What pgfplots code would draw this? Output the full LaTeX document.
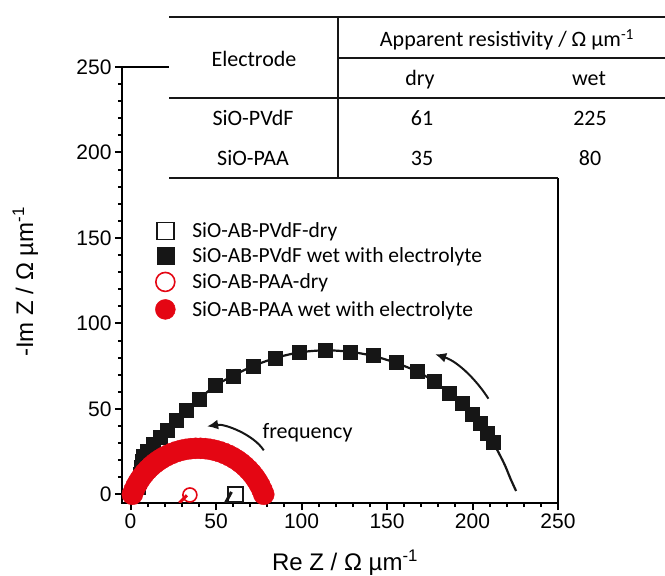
\documentclass[border=0pt]{standalone}
\usepackage{pgfplots}
\pgfplotsset{compat=1.18}
\usetikzlibrary{arrows.meta}
\usepackage{fontspec}
\setmainfont{Carlito}
\newfontfamily\arial{Liberation Sans}
\definecolor{myred}{RGB}{228,6,19}
\definecolor{myblack}{RGB}{22,22,22}

\begin{document}
\begin{tikzpicture}
\begin{axis}[
  at={(122bp,73bp)}, anchor=south west,
  scale only axis, width=436bp, height=436bp,
  xmin=-5, xmax=250, ymin=-5, ymax=250,
  axis line style={line width=2.2bp},
  xtick={0,50,...,250}, ytick={0,50,...,250},
  minor xtick={10,20,...,240}, minor ytick={10,20,...,240},
  tick pos=left, tick align=outside,
  major tick length=7bp, minor tick length=4bp,
  every tick/.style={black, line width=2bp},
  /pgf/number format/assume math mode=true,
  ticklabel style={font=\arial\fontsize{21bp}{24bp}\selectfont},
  xlabel={Re Z / Ω µm\textsuperscript{-1}},
  ylabel={-Im Z / Ω µm\textsuperscript{-1}},
  label style={font=\arial\fontsize{24bp}{28bp}\selectfont},
  xlabel style={at={(axis description cs:0.5115,-0.155)}, anchor=base},
  ylabel style={at={(axis description cs:-0.204,0.507)}, anchor=base},
  legend style={at={(axis description cs:0.076,0.644)}, anchor=north west,
    draw=none, fill=none, inner sep=0pt, row sep=8bp,
    font=\fontsize{21.5bp}{24bp}\selectfont,
    nodes={inner sep=0pt},
    /tikz/every odd column/.append style={column sep=17bp}},
  legend cell align=left,
]

% fit line, wet PVdF
\addplot[myblack, line width=2.2bp, smooth, forget plot] coordinates {
  (3.5,-3) (4.5,3) (5.8,10) (7,18) (9,24) (13,29) (17,33.3) (21.4,37.6)
  (26.8,43.4) (32.7,49.2) (40.9,56.5) (49.6,63.6) (60,69.5) (71.5,75)
  (84.7,79.8) (98.9,83.1) (114,84.3) (128.5,83.4) (142,81) (155,77)
  (167.5,72) (177.6,66) (186.3,59.4) (193.7,53.1) (199.6,46.9) (204.4,41.4)
  (208.4,35.9) (211.9,30.6) (215.5,24) (219,17) (222.3,9) (225.5,2)
};

% wet PVdF
\addplot[only marks, mark=square*, mark size=7bp, myblack, forget plot] coordinates {
  (4.5,4) (5,8) (5.5,12) (6.3,16) (6.8,19.5) (7.4,22.2) (9.7,25.4)
  (13.2,29.1) (17.1,33.2) (21.4,37.5) (26.7,43.3) (32.7,49.2) (40.3,56.0)
  (49.6,63.8) (60.1,69.2) (71.5,75.2) (84.7,79.8) (98.9,83.3) (113.9,84.3)
  (128.5,83.3) (142.1,81.2) (155.1,77.1) (167.5,72.2) (177.6,66.2)
  (186.3,59.3) (193.7,53.1) (199.6,46.8) (204.4,41.4) (208.4,35.9) (211.9,30.6)
};

% wet PAA
\addplot[only marks, mark=*, mark size=10.5bp, myred, forget plot] coordinates {
  (1.07,0.09) (2.14,2.73) (3.39,5.30) (4.82,7.77) (6.41,10.14) (8.17,12.39)
  (10.08,14.51) (12.13,16.49) (14.32,18.33) (16.63,20.01) (19.05,21.52)
  (21.57,22.86) (24.18,24.02) (26.86,25.00) (29.61,25.79) (32.40,26.38)
  (35.23,26.78) (38.07,26.98) (40.93,26.98) (43.77,26.78) (46.60,26.38)
  (49.39,25.79) (52.14,25.00) (54.82,24.02) (57.43,22.86) (59.95,21.52)
  (62.37,20.01) (64.68,18.33) (66.87,16.49) (68.92,14.51) (70.83,12.39)
  (72.59,10.14) (74.18,7.77) (75.61,5.30) (76.86,2.73) (77.93,0.09)
};

% dry PVdF
\addplot[myblack, line width=3bp, forget plot] coordinates {(55.5,-5) (59,1.5)};
\addplot[only marks, mark=square, mark size=7.5bp, line width=1.6bp, myblack,
  mark options={fill=white}, forget plot] coordinates {(61.5,0)};
% dry PAA
\addplot[myred, line width=3bp, forget plot] coordinates {(28.5,-5) (33,-0.5)};
\addplot[only marks, mark=o, mark size=7bp, line width=1.6bp, myred,
  mark options={fill=white}, forget plot] coordinates {(34.7,-0.3)};

\addlegendimage{only marks, mark=square, mark size=8.5bp, line width=1.6bp, myblack}
\addlegendentry{SiO-AB-PVdF-dry}
\addlegendimage{only marks, mark=square*, mark size=8.5bp, myblack}
\addlegendentry{SiO-AB-PVdF wet with electrolyte}
\addlegendimage{only marks, mark=o, mark size=9.5bp, line width=1.6bp, myred}
\addlegendentry{SiO-AB-PAA-dry}
\addlegendimage{only marks, mark=*, mark size=10bp, myred}
\addlegendentry{SiO-AB-PAA wet with electrolyte}

% arrows and label
\draw[myblack, line width=2bp, -{Latex[length=11bp,width=10bp]}]
  (axis cs:77.9,25.8) .. controls (axis cs:72,35) and (axis cs:55,41.5) .. (axis cs:44.8,39.8);
\draw[myblack, line width=2bp, -{Latex[length=11bp,width=10bp]}]
  (axis cs:209.3,56) .. controls (axis cs:203,66) and (axis cs:192,77.5) .. (axis cs:178.2,82);
\node[anchor=base west, inner sep=0pt, font=\fontsize{22bp}{26bp}\selectfont]
  at (axis cs:77.1,32.8) {frequency};
\end{axis}

% inset table
\fill[white] (169bp,398bp) rectangle (665bp,560bp);
\begin{scope}[line width=2bp, myblack]
  \draw (169bp,559bp) -- (665bp,559bp);
  \draw (338bp,559bp) -- (338bp,398bp);
  \draw (338bp,518bp) -- (665bp,518bp);
  \draw (169bp,478bp) -- (665bp,478bp);
  \draw (169bp,398bp) -- (558bp,398bp);
\end{scope}
\begin{scope}[every node/.style={anchor=base, inner sep=0pt,
    font=\fontsize{22bp}{26bp}\selectfont}]
  \node at (254bp,509bp) {Electrode};
  \node at (507bp,529bp) {Apparent resistivity / Ω µm\textsuperscript{-1}};
  \node at (420bp,490bp) {dry};
  \node at (589bp,490bp) {wet};
  \node at (253bp,450bp) {SiO-PVdF};
  \node at (422bp,450bp) {61};
  \node at (590bp,450bp) {225};
  \node at (253bp,410bp) {SiO-PAA};
  \node at (422bp,410bp) {35};
  \node at (590bp,410bp) {80};
\end{scope}
\pgfresetboundingbox
\useasboundingbox (0bp,0bp) rectangle (665bp,576bp);
\end{tikzpicture}
\end{document}
